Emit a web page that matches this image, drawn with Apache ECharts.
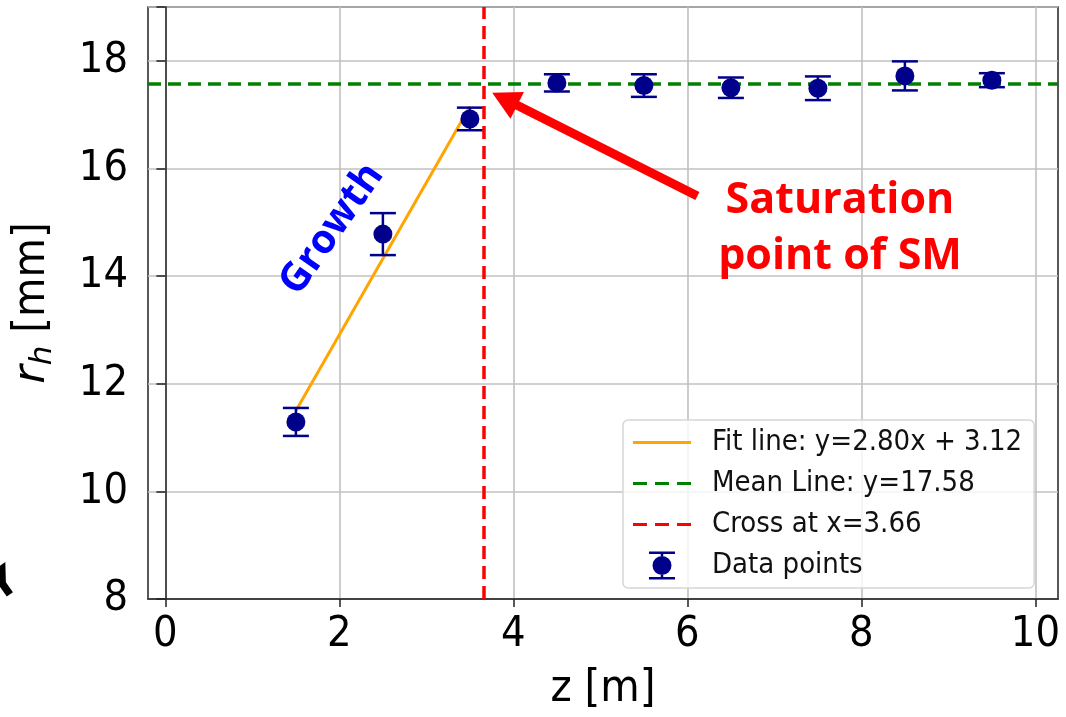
<!DOCTYPE html>
<html>
<head>
<meta charset="utf-8">
<script src="https://cdn.jsdelivr.net/npm/echarts@6/dist/echarts.min.js"></script>
<style>
html,body{margin:0;padding:0;background:#fff;}
#chart{width:1066px;height:717px;}
</style>
</head>
<body>
<div id="chart"></div>
<script>
// ---- data ----
const xPoints = [1.5, 2.5, 3.5, 4.5, 5.5, 6.5, 7.5, 8.5, 9.5];
const yPoints = [11.29, 14.78, 16.92, 17.59, 17.54, 17.50, 17.49, 17.72, 17.64];
const yErrors = [0.26, 0.39, 0.21, 0.16, 0.21, 0.19, 0.22, 0.27, 0.13];
const fitX = [1.5, 3.5];
const fitY = [11.5, 17.15];
const meanValue = 17.58;
const crossValue = 3.66;
const xTicks = [0, 2, 4, 6, 8, 10];
const arrowFrom = [6.115, 15.49];
const arrowTo = [3.90, 17.29];
const legendNames = ['Fit line: y=2.80x + 3.12', 'Mean Line: y=17.58', 'Cross at x=3.66', 'Data points'];

const COND = "'DejaVu Sans Condensed', 'DejaVu Sans', sans-serif";
const navy = '#00008B';

const chart = echarts.init(document.getElementById('chart'), null, {renderer: 'canvas'});

const lineIcon = 'path://M0,0h58v3h-58z';
const dashIcon = 'path://M0,0h13v3h-13z M20.5,0h13v3h-13z M41,0h13v3h-13z';
const errIcon = 'path://M0,0h26v2.5h-26z M0,25.5h26v2.5h-26z M11.75,2.5h2.5v2h-2.5z M11.75,23.5h2.5v2h-2.5z M3.5,14a9.5,9.5 0 1,0 19,0a9.5,9.5 0 1,0 -19,0z';

const option = {
  animation: false,
  backgroundColor: '#fff',
  grid: {left: 148, right: 8, top: 7, bottom: 116, show: true, borderColor: '#222', borderWidth: 1.5, backgroundColor: 'transparent'},
  xAxis: {
    type: 'value', min: -0.2, max: 10.26,
    name: 'z [m]', nameLocation: 'middle', nameGap: 68,
    nameTextStyle: {fontFamily: COND, fontSize: 45, color: '#000'},
    axisLine: {show: true, onZero: false, lineStyle: {color: '#222', width: 1.5}},
    axisTick: {show: true, length: 8, inside: false, customValues: xTicks, lineStyle: {color: '#222', width: 1.5}},
    axisLabel: {customValues: xTicks, margin: 14, fontFamily: COND, fontSize: 43, color: '#000'},
    splitLine: {show: true, lineStyle: {color: '#c0c0c0', width: 1.6}}
  },
  yAxis: {
    type: 'value', min: 8, max: 19, interval: 2,
    name: '{i|r}{s|h} [mm]', nameLocation: 'middle', nameGap: 90, nameRotate: 90,
    nameTextStyle: {fontFamily: COND, fontSize: 45, color: '#000',
      rich: {
        i: {fontFamily: "'DejaVu Sans', sans-serif", fontStyle: 'italic', fontSize: 45, color: '#000'},
        s: {fontFamily: "'DejaVu Sans', sans-serif", fontStyle: 'italic', fontSize: 31, color: '#000', padding: [20, 0, 0, 0]}
      }},
    axisLine: {show: true, lineStyle: {color: '#222', width: 1.5}},
    axisTick: {show: true, length: 9, lineStyle: {color: '#222', width: 1.5}},
    axisLabel: {margin: 20, fontFamily: COND, fontSize: 43, color: '#000',
      formatter: v => (v > 18.5 ? '' : String(v))},
    splitLine: {show: true, lineStyle: {color: '#c0c0c0', width: 1.6}}
  },
  legend: {
    orient: 'vertical', left: 623, top: 420,
    padding: [8, 12, 8, 10],
    itemWidth: 58, itemHeight: 28, itemGap: 12,
    backgroundColor: 'rgba(255,255,255,0.8)', borderColor: '#d6d6d6', borderWidth: 1.5, borderRadius: 5,
    textStyle: {fontFamily: COND, fontSize: 29, color: '#111', lineHeight: 28, padding: [0, 0, 0, 16]},
    itemStyle: {borderWidth: 0, opacity: 1},
    selectedMode: false,
    data: [
      {name: legendNames[0], icon: lineIcon, itemStyle: {color: '#FFA500', borderWidth: 0, opacity: 1}},
      {name: legendNames[1], icon: dashIcon, itemStyle: {color: '#008000', borderWidth: 0, opacity: 1}},
      {name: legendNames[2], icon: dashIcon, itemStyle: {color: '#FF0000', borderWidth: 0, opacity: 1}},
      {name: legendNames[3], icon: errIcon, itemStyle: {color: navy, borderWidth: 0, opacity: 1}}
    ]
  },
  series: [
    {
      name: legendNames[0], type: 'line', color: '#FFA500',
      data: fitX.map((x, i) => [x, fitY[i]]),
      showSymbol: false, symbol: 'none',
      lineStyle: {color: '#FFA500', width: 3}, z: 3
    },
    {
      name: legendNames[1], type: 'line', color: '#008000', data: [],
      markLine: {silent: true, symbol: 'none', label: {show: false},
        lineStyle: {color: '#008000', width: 3.5, type: [13, 7]},
        data: [{yAxis: meanValue}]}, z: 2
    },
    {
      name: legendNames[2], type: 'line', color: '#FF0000', data: [],
      markLine: {silent: true, symbol: 'none', label: {show: false},
        lineStyle: {color: '#FF0000', width: 3.5, type: [13, 7]},
        data: [{xAxis: crossValue}]}, z: 2
    },
    {
      name: 'errorbars', type: 'custom', z: 4,
      data: xPoints.map((x, i) => [x, yPoints[i], yErrors[i]]),
      encode: {x: 0, y: 1},
      renderItem: function (params, api) {
        const x = api.value(0), y = api.value(1), e = api.value(2);
        const top = api.coord([x, y + e]);
        const bot = api.coord([x, y - e]);
        const hw = 13;
        const st = {stroke: navy, lineWidth: 2.5, fill: null};
        return {type: 'group', children: [
          {type: 'line', shape: {x1: top[0], y1: top[1], x2: bot[0], y2: bot[1]}, style: st},
          {type: 'line', shape: {x1: top[0] - hw, y1: top[1], x2: top[0] + hw, y2: top[1]}, style: st},
          {type: 'line', shape: {x1: bot[0] - hw, y1: bot[1], x2: bot[0] + hw, y2: bot[1]}, style: st}
        ]};
      }
    },
    {
      name: legendNames[3], type: 'scatter', color: navy, z: 5,
      symbol: 'circle', symbolSize: 19,
      itemStyle: {color: navy, opacity: 1},
      emphasis: {disabled: true},
      data: xPoints.map((x, i) => [x, yPoints[i]])
    },
    {
      name: 'arrow', type: 'line', data: [], z: 6,
      markLine: {silent: true, symbol: ['none', 'triangle'], symbolSize: [30, 28], label: {show: false},
        lineStyle: {color: '#FF0000', width: 9, type: 'solid'},
        itemStyle: {color: '#FF0000'},
        data: [[{coord: arrowFrom}, {coord: arrowTo}]]}
    }
  ],
  graphic: [
    {type: 'text', x: 332, y: 229, rotation: 55 * Math.PI / 180, z: 10,
      style: {text: 'Growth', font: "bold 40px 'Open Sans'", fill: '#0000FF', align: 'center', verticalAlign: 'middle'}},
    {type: 'text', x: 840, y: 201, z: 10,
      style: {text: 'Saturation', font: "bold 43px 'Open Sans'", fill: '#FF0000', align: 'center', verticalAlign: 'middle'}},
    {type: 'text', x: 840, y: 257, z: 10,
      style: {text: 'point of SM', font: "bold 43px 'Open Sans'", fill: '#FF0000', align: 'center', verticalAlign: 'middle'}},
    {type: 'text', x: 4, y: 586, rotation: 35 * Math.PI / 180, z: 10,
      style: {text: 'Y', font: "bold 40px 'DejaVu Sans'", fill: '#000', align: 'center', verticalAlign: 'middle'}}
  ]
};
chart.setOption(option);
</script>
</body>
</html>
